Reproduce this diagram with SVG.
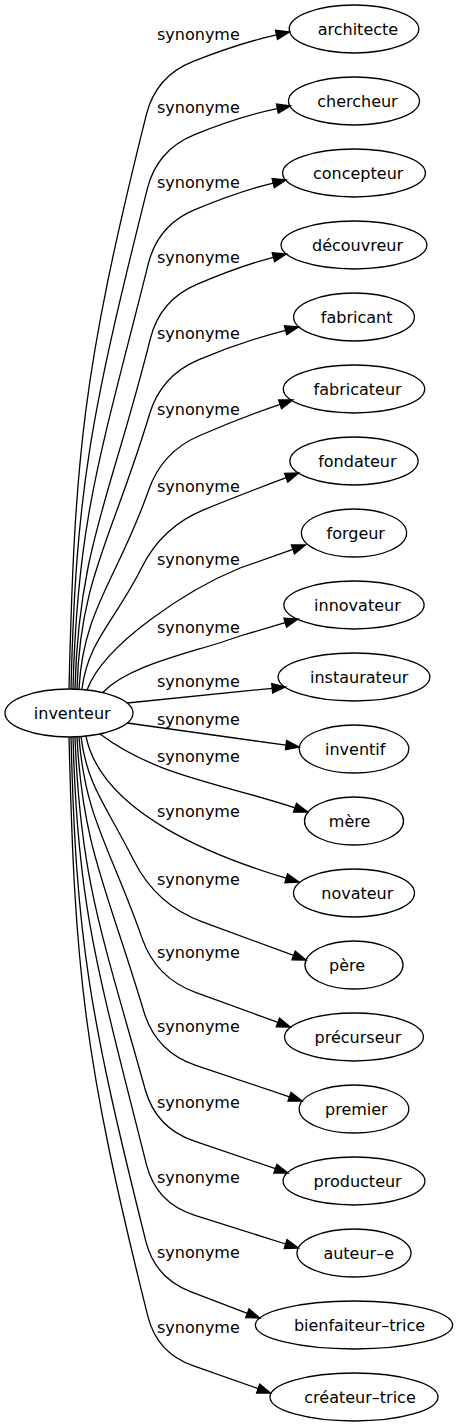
<svg xmlns="http://www.w3.org/2000/svg" width="457" height="1427" viewBox="0 0 457 1427">
<style>
.node ellipse{fill:none;stroke:#000;stroke-width:1.3}
text{font-family:"DejaVu Sans","Liberation Sans",sans-serif;font-size:16px;fill:#000}
.edges path{fill:none;stroke:#000;stroke-width:1.3}
.edges polygon{fill:#000;stroke:#000;stroke-width:1.3}
</style>
<rect width="457" height="1427" fill="#fff"/>
<g class="edges" id="edges">
<path d="M69,689 C74.7,459.3 81.7,373.2 146.3,114.8 Q156,76 193.2,61.4 Q240,43 276.5,34.9"/><polygon points="289.5,32 277.5,39.5 275.5,30.3"/>
<path d="M71,689 C76,489.1 91,413.9 147.3,188.8 Q157,150 194,134.8 Q240,116 277.4,108.6"/><polygon points="290.4,106 278.3,113.2 276.4,104"/>
<path d="M73,689 C77.3,518.9 100.5,455.1 148.3,263.8 Q158,225 194.9,209.7 Q240,191 273.2,183.1"/><polygon points="286.1,180 274.3,187.6 272.1,178.6"/>
<path d="M75,689 C78.5,548.9 110.9,496.4 150.3,338.8 Q160,300 196.8,284.4 Q240,266 273.4,257.3"/><polygon points="286.3,254 274.6,261.8 272.2,252.8"/>
<path d="M77,689 C79.7,579.1 112.4,537.9 149.5,414.3 Q161,376 197.8,360.2 Q240,342 285.6,330.3"/><polygon points="298.5,327 286.8,334.8 284.4,325.8"/>
<path d="M79,689 C83,609.3 117.4,579.4 148.8,489.8 Q162,452 198.7,436 Q240,418 280.1,404.3"/><polygon points="292.7,400 281.6,408.7 278.6,399.9"/>
<path d="M82,689 C88.1,640.3 114.5,622 141.9,567.2 Q162,527 203.6,509.9 Q240,495 286.2,477.7"/><polygon points="298.6,473 287.8,482.1 284.6,473.3"/>
<path d="M87,690 C104.5,643 189.1,588.9 240,568 L292.9,549.4"/><polygon points="305.5,545 294.5,553.8 291.4,545"/>
<path d="M103,692.2 C131,663.8 193,653 240,636 L285.2,622.7"/><polygon points="298,619 286.5,627.2 283.9,618.2"/>
<path d="M127.2,703 L272.2,688.3"/><polygon points="285.4,687 272.7,693 271.7,683.7"/>
<path d="M127.2,723 L286,745.2"/><polygon points="299.2,747 285.4,749.8 286.6,740.6"/>
<path d="M100,734 C156,776 219,782.8 295,807.8"/><polygon points="307.6,812 293.5,812.2 296.5,803.4"/>
<path d="M86,736.3 C102,814.7 219.1,858.1 286.2,878.2"/><polygon points="298.9,882 284.9,882.7 287.5,873.7"/>
<path d="M81,736.6 C87.2,786.1 105.8,804.6 133.7,860.3 Q156,905 203,922.2 L293.6,955.4"/><polygon points="306.1,960 292,959.8 295.2,951"/>
<path d="M79,736.7 C85,817.4 110.3,847.6 142.1,938.4 Q156,978 195.5,992.4 L277.9,1022.4"/><polygon points="290.4,1027 276.3,1026.8 279.5,1018"/>
<path d="M77,736.8 C82.5,846.8 106.8,888.1 143.9,1011.8 Q156,1052 195.8,1065.4 L289.5,1096.8"/><polygon points="302.1,1101 288,1101.2 291,1092.4"/>
<path d="M75,736.9 C80.3,877.9 100.8,930.8 145.2,1089.5 Q156,1128 193.8,1140.9 L275.4,1168.7"/><polygon points="288,1173 273.9,1173.1 276.9,1164.3"/>
<path d="M73,736.9 C77.3,907.8 98.2,971.9 146.3,1164.2 Q156,1203 194.2,1215.1 L285.6,1244"/><polygon points="298.3,1248 284.2,1248.5 287,1239.5"/>
<path d="M71,737 C76,938.6 89.1,1014.3 145.8,1241.1 Q155,1278 190.5,1291.6 L247.4,1313.3"/><polygon points="259.8,1318 245.7,1317.6 249.1,1308.9"/>
<path d="M69,737 C74.8,968.6 82.7,1055.5 147.8,1316.1 Q157,1353 192.9,1365.6 L258.1,1388.6"/><polygon points="270.7,1393 256.6,1393 259.7,1384.2"/>
<text x="157" y="40">synonyme</text>
<text x="157" y="113">synonyme</text>
<text x="157" y="188">synonyme</text>
<text x="157" y="263">synonyme</text>
<text x="157" y="339">synonyme</text>
<text x="157" y="415">synonyme</text>
<text x="157" y="492">synonyme</text>
<text x="157" y="565">synonyme</text>
<text x="157" y="633">synonyme</text>
<text x="157" y="687">synonyme</text>
<text x="157" y="725">synonyme</text>
<text x="157" y="762">synonyme</text>
<text x="157" y="817">synonyme</text>
<text x="157" y="885">synonyme</text>
<text x="157" y="958">synonyme</text>
<text x="157" y="1032">synonyme</text>
<text x="157" y="1108">synonyme</text>
<text x="157" y="1183">synonyme</text>
<text x="157" y="1258">synonyme</text>
<text x="157" y="1333">synonyme</text>
</g>
<g class="node" id="n_inventeur"><ellipse cx="69" cy="713" rx="64" ry="24"/><text x="33.8" y="718.5">inventeur</text></g>
<g class="node" id="n_architecte"><ellipse cx="354" cy="29" rx="64.8" ry="24"/><text x="317.7" y="34.5">architecte</text></g>
<g class="node" id="n_chercheur"><ellipse cx="354" cy="101" rx="65.5" ry="24"/><text x="317.2" y="106.5">chercheur</text></g>
<g class="node" id="n_concepteur"><ellipse cx="354" cy="173" rx="71.4" ry="24"/><text x="313" y="178.5">concepteur</text></g>
<g class="node" id="n_decouvreur"><ellipse cx="354" cy="245" rx="72.9" ry="24"/><text x="312" y="250.5">découvreur</text></g>
<g class="node" id="n_fabricant"><ellipse cx="354" cy="317" rx="60.4" ry="24"/><text x="320.8" y="322.5">fabricant</text></g>
<g class="node" id="n_fabricateur"><ellipse cx="354" cy="389" rx="70.7" ry="24"/><text x="313.6" y="394.5">fabricateur</text></g>
<g class="node" id="n_fondateur"><ellipse cx="354" cy="461" rx="64.1" ry="24"/><text x="318.2" y="466.5">fondateur</text></g>
<g class="node" id="n_forgeur"><ellipse cx="354" cy="533" rx="52.6" ry="24"/><text x="326.5" y="538.5">forgeur</text></g>
<g class="node" id="n_innovateur"><ellipse cx="354" cy="605" rx="70.1" ry="24"/><text x="314.1" y="610.5">innovateur</text></g>
<g class="node" id="n_instaurateur"><ellipse cx="354" cy="677" rx="75.9" ry="24"/><text x="310" y="682.5">instaurateur</text></g>
<g class="node" id="n_inventif"><ellipse cx="354" cy="749" rx="54.8" ry="24"/><text x="325" y="754.5">inventif</text></g>
<g class="node" id="n_mere"><ellipse cx="354" cy="821" rx="49.5" ry="24"/><text x="328.8" y="826.5">mère</text></g>
<g class="node" id="n_novateur"><ellipse cx="354" cy="893" rx="60.5" ry="24"/><text x="321.3" y="898.5">novateur</text></g>
<g class="node" id="n_pere"><ellipse cx="354" cy="965" rx="49" ry="24"/><text x="329.1" y="970.5">père</text></g>
<g class="node" id="n_precurseur"><ellipse cx="354" cy="1037" rx="69.4" ry="24"/><text x="314.6" y="1042.5">précurseur</text></g>
<g class="node" id="n_premier"><ellipse cx="354" cy="1109" rx="54.8" ry="24"/><text x="325" y="1114.5">premier</text></g>
<g class="node" id="n_producteur"><ellipse cx="354" cy="1181" rx="70.9" ry="24"/><text x="313.6" y="1186.5">producteur</text></g>
<g class="node" id="n_auteur"><ellipse cx="354" cy="1253" rx="57" ry="24"/><text x="323.4" y="1258.5">auteur–e</text></g>
<g class="node" id="n_bienfaiteur"><ellipse cx="354" cy="1325" rx="98.6" ry="24"/><text x="293.9" y="1330.5">bienfaiteur–trice</text></g>
<g class="node" id="n_createur"><ellipse cx="354" cy="1397" rx="84" ry="24"/><text x="304.3" y="1402.5">créateur–trice</text></g>
</svg>
